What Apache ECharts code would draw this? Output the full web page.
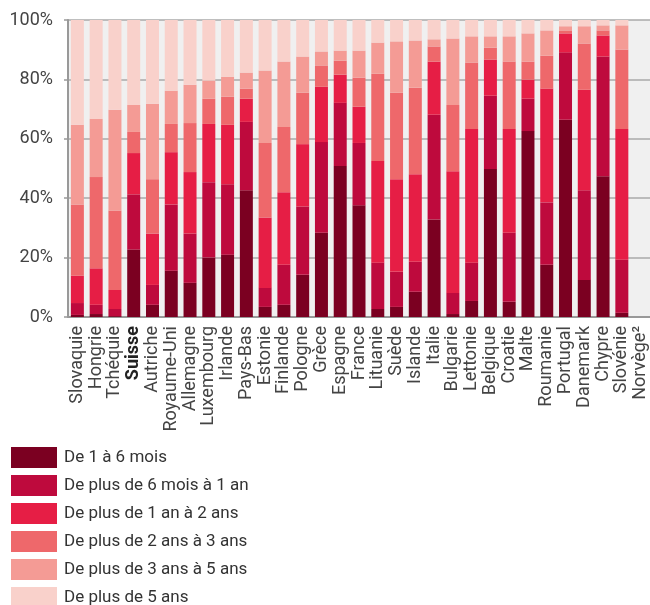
<!DOCTYPE html>
<html>
<head>
<meta charset="utf-8">
<script src="https://cdn.jsdelivr.net/npm/echarts@6/dist/echarts.min.js"></script>
<style>html,body{margin:0;padding:0;background:#fff}#c{width:650px;height:605px}</style>
</head>
<body>
<div id="c"></div>
<script>
var categories = ["Slovaquie","Hongrie","Tchéquie","Suisse","Autriche","Royaume-Uni","Allemagne","Luxembourg","Irlande","Pays-Bas","Estonie","Finlande","Pologne","Grèce","Espagne","France","Lituanie","Suède","Islande","Italie","Bulgarie","Lettonie","Belgique","Croatie","Malte","Roumanie","Portugal","Danemark","Chypre","Slovénie","Norvège²"];
var seriesNames = ["De 1 à 6 mois","De plus de 6 mois à 1 an","De plus de 1 an à 2 ans","De plus de 2 ans à 3 ans","De plus de 3 ans à 5 ans","De plus de 5 ans"];
var m1to6 = [0.7,1.0,0.3,22.7,4.1,15.6,11.5,20.0,21.0,42.7,3.4,4.1,14.2,28.4,50.8,37.6,2.7,3.4,8.5,32.8,1.0,5.4,49.8,5.1,62.6,17.6,66.4,12.5,47.4,1.4,null];
var m6to12 = [4.0,3.1,2.4,18.6,6.7,22.3,16.6,25.4,23.7,23.0,6.4,13.5,23.0,30.5,21.3,21.0,15.6,11.8,10.1,35.3,7.1,12.9,24.7,23.3,10.9,21.0,22.7,30.2,40.3,17.9,null];
var y1to2 = [9.2,12.3,6.4,13.9,17.3,17.6,20.7,19.6,20.0,7.8,23.7,24.4,21.0,18.6,9.5,12.2,34.2,31.2,29.5,17.9,41.0,45.0,12.2,34.9,6.4,38.3,6.4,33.8,7.1,44.0,null];
var y2to3 = [24.0,30.7,26.8,7.1,18.3,9.5,16.5,8.5,9.5,3.4,25.1,22.0,17.3,7.2,4.7,9.8,29.4,29.1,29.1,5.1,22.3,22.4,4.0,22.7,6.1,11.1,1.0,15.6,1.7,26.8,null];
var y3to5 = [26.8,19.6,33.9,9.1,25.4,11.2,12.9,6.1,6.7,5.4,24.4,22.0,12.2,4.7,3.4,9.1,10.5,17.3,15.9,2.4,22.4,8.8,3.8,8.5,9.5,8.5,1.4,5.8,1.7,8.1,null];
var over5 = [35.3,33.3,30.2,28.6,28.2,23.8,21.8,20.4,19.1,17.7,17.0,14.0,12.3,10.6,10.3,10.3,7.6,7.2,6.9,6.5,6.2,5.5,5.5,5.5,4.5,3.5,2.1,2.1,1.8,1.8,null];
var yTicks = [0,20,40,60,80,100];

var colors = ["#7b0021","#be0a3d","#e61e45","#ee686b","#f49b95","#f9d1cb"];
var allData = [m1to6,m6to12,y1to2,y2to3,y3to5,over5];
var chart = echarts.init(document.getElementById('c'), null, {renderer:'canvas'});
var series = seriesNames.map(function(n,i){
  return {name:n,type:'bar',stack:'t',data:allData[i],barWidth:13,
    itemStyle:{color:colors[i]},emphasis:{disabled:true},animation:false};
});
chart.setOption({
  animation:false,
  textStyle:{fontFamily:'Roboto'},
  grid:{left:68,top:20,width:584,bottom:288,show:true,backgroundColor:'#f0f0f0',borderWidth:0},
  legend:{orient:'vertical',left:11,top:447,height:220,padding:0,itemWidth:46,itemHeight:21,itemGap:7,
    icon:'rect',data:seriesNames,selectedMode:false,
    textStyle:{fontFamily:'Roboto',fontSize:17,color:'#333',padding:[0,0,0,2]}},
  xAxis:{type:'category',data:categories,
    axisLine:{show:true,lineStyle:{color:'#999',width:2}},
    axisTick:{show:false},
    axisLabel:{rotate:90,interval:0,margin:9,fontSize:18,color:'#444',fontFamily:'Roboto',
      formatter:function(v){return v==='Suisse'?'{b|'+v+'}':v;},
      rich:{b:{fontWeight:'bold',fontSize:18,color:'#222',fontFamily:'Roboto'}}}},
  yAxis:{type:'value',min:yTicks[0],max:yTicks[yTicks.length-1],interval:yTicks[1]-yTicks[0],
    axisLine:{show:true,lineStyle:{color:'#999',width:2}},
    axisTick:{show:true,length:4,lineStyle:{color:'#999',width:1.5}},
    splitLine:{show:true,lineStyle:{color:'#aaa',width:1.5}},
    axisLabel:{formatter:'{value}%',fontSize:18,color:'#444',margin:15,fontFamily:'Roboto'}},
  series:series
});
</script>
</body>
</html>
